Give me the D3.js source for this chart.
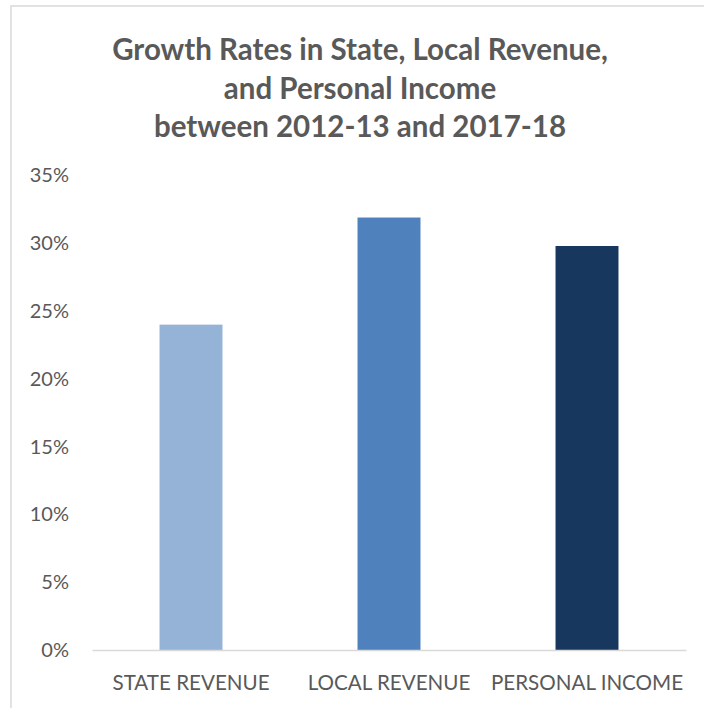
<!DOCTYPE html>
<html><head><meta charset="utf-8">
<script src="https://cdn.jsdelivr.net/npm/d3@7"></script>
<style>body{margin:0;background:#fff}svg{display:block}text{font-family:Lato,"Open Sans",sans-serif}</style>
</head><body>
<svg id="c" width="704" height="708"></svg>
<script>
const categories = ["STATE REVENUE", "LOCAL REVENUE", "PERSONAL INCOME"];
const values = [24.0, 31.9, 29.8];
const colors = ["#95b3d7", "#4f81bd", "#17375e"];
const yTicks = [0, 5, 10, 15, 20, 25, 30, 35];
const titleLines = ["Growth Rates in State, Local Revenue,", "and Personal Income", "between 2012-13 and 2017-18"];

const svg = d3.select("#c");
svg.append("rect").attr("x", 11).attr("y", 6).attr("width", 720).attr("height", 720)
  .attr("fill", "none").attr("stroke", "#d9d9d9").attr("stroke-width", 1.5);

const x = d3.scaleBand().domain(categories).range([92, 686]).padding(0);
const y = d3.scaleLinear().domain([0, 35]).range([650, 175.5]);
const barW = x.bandwidth() * 0.318;

svg.append("g").selectAll("text").data(titleLines).join("text")
  .attr("x", 360).attr("y", (d, i) => 60 + i * 38.5)
  .attr("text-anchor", "middle").attr("font-size", 29.5).attr("font-weight", 700)
  .attr("fill", "#595959").text(d => d);

const yAxis = svg.append("g").attr("transform", "translate(92,0)")
  .call(d3.axisLeft(y).tickValues(yTicks).tickFormat(d => d + "%").tickSize(0).tickPadding(23));
yAxis.select(".domain").remove();
yAxis.selectAll("text").attr("font-size", 20).attr("fill", "#595959").attr("font-family", "Lato");

svg.append("g").selectAll("rect").data(values).join("rect")
  .attr("x", (d, i) => x(categories[i]) + x.bandwidth() / 2 - barW / 2)
  .attr("width", barW)
  .attr("y", d => y(d)).attr("height", d => y(0) - y(d))
  .attr("fill", (d, i) => colors[i]);

const xAxis = svg.append("g").attr("transform", "translate(0,650)")
  .call(d3.axisBottom(x).tickSize(0).tickPadding(25));
xAxis.select(".domain").attr("stroke", "#d9d9d9").attr("stroke-width", 1.5);
xAxis.selectAll("text").attr("font-size", 20.6).attr("fill", "#595959").attr("font-family", "Lato");
</script>
</body></html>
